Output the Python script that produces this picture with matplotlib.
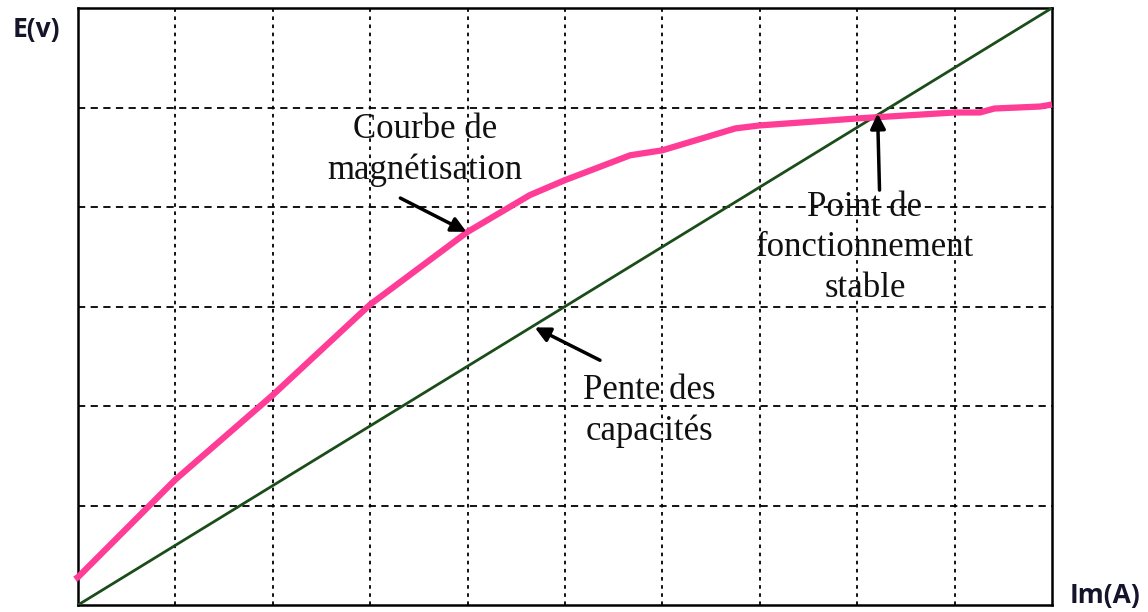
import matplotlib
matplotlib.use("Agg")
import matplotlib.pyplot as plt

# Magnetisation curve E(Im) of the self-excited machine
im_mag = [-0.03, 0.0, 1.0, 2.0, 3.0, 4.0, 4.64, 5.0, 5.67, 6.0, 6.75, 7.0, 8.0, 9.0, 9.26, 9.41, 9.88, 10.0]
e_mag = [0.26, 0.28, 1.26, 2.11, 3.02, 3.75, 4.12, 4.27, 4.52, 4.57, 4.79, 4.82, 4.89, 4.95, 4.95, 4.99, 5.01, 5.03]

# Capacitor load line E = Im / (C w)
im_cap = [0.0, 10.0]
e_cap = [0.0, 6.0]

x_ticks = list(range(0, 11))
y_ticks = list(range(0, 7))

fig = plt.figure(figsize=(11.48, 6.12), dpi=100)
ax = fig.add_axes([0.0679, 0.0114, 0.8484, 0.9755])
ax.set_xlim(0, 10)
ax.set_ylim(0, 6)
ax.set_xticks(x_ticks)
ax.set_yticks(y_ticks)
ax.tick_params(length=0, labelbottom=False, labelleft=False)

for x in x_ticks[1:-1]:
    ax.axvline(x, color="black", lw=1.3, ls=(0, (2.0, 2.5)), zorder=1)
for y in y_ticks[1:-1]:
    ax.axhline(y, color="black", lw=1.3, ls=(0, (4.0, 3.0)), zorder=1)

for s in ax.spines.values():
    s.set_linewidth(1.8)
    s.set_color("black")

ax.plot(im_cap, e_cap, color="#1b4d1b", lw=2.0, zorder=3)
ax.plot(im_mag, e_mag, color="#ff3d96", lw=4.5, zorder=4, clip_on=False,
        solid_capstyle="butt")

serif = dict(family="Liberation Serif", fontsize=25, ha="center", va="center",
             linespacing=1.3, color="#111111", zorder=5)
arrow = dict(arrowstyle="-|>,head_length=0.9,head_width=0.45", color="black",
             lw=2.5, shrinkA=0, shrinkB=0)

ax.text(3.56, 4.57, "Courbe de\nmagnétisation", **serif)
ax.annotate("", xy=(3.99, 3.75), xytext=(3.31, 4.09), arrowprops=arrow, zorder=6)

ax.text(5.87, 1.95, "Pente des\ncapacités", **serif)
ax.annotate("", xy=(4.69, 2.79), xytext=(5.36, 2.46), arrowprops=arrow, zorder=6)

ax.text(8.08, 3.59, "Point de\nfonctionnement\nstable", **serif)
ax.annotate("", xy=(8.21, 4.94), xytext=(8.23, 4.17), arrowprops=arrow, zorder=6)

fig.text(36 / 1148, 1 - 30 / 612, "E(v)", family="Open Sans", weight="bold",
         fontsize=19, ha="center", va="center", color="#14142a")
fig.text(1105 / 1148, 1 - 596 / 612, "Im(A)", family="Open Sans", weight="bold",
         fontsize=19, ha="center", va="center", color="#14142a")

fig.savefig("out.png", dpi=100)
